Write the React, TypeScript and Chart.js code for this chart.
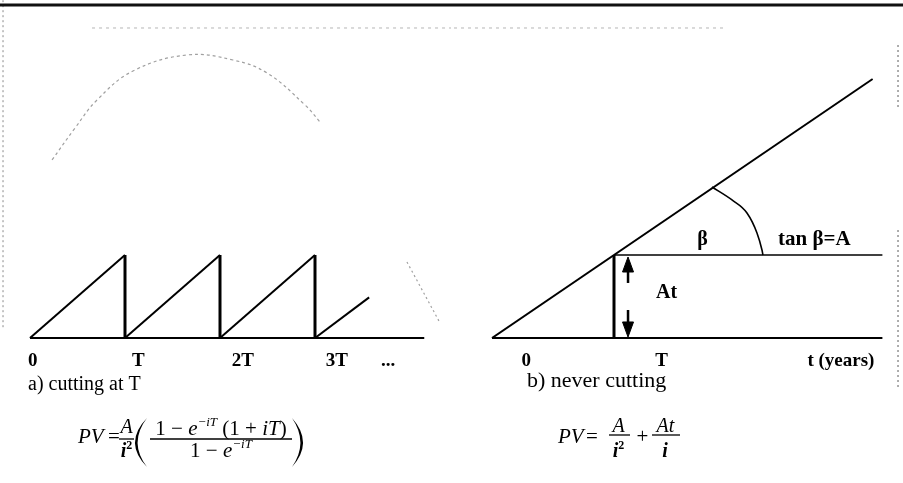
import React, { useEffect, useRef } from 'react';
import { Chart, registerables } from 'chart.js';

Chart.register(...registerables);

// ---------------- DATA ----------------
// (a) cutting at T : sawtooth growth, x in units of T, y in units of A*T
const rampStartX = [0, 1, 2, 3];
const rampEndX = [1, 2, 3, 3.57];
const rampEndY = [1, 1, 1, 0.49];
const cutX = [1, 2, 3];
const cutHeight = [1, 1, 1];
const leftBaseEnd = 4.15;
const leftTickPos = [0.03, 1.14, 2.24, 3.23, 3.77];
const leftTickLabels = ['0', 'T', '2T', '3T', '...'];

// (b) never cutting : straight growth y = A t (A = 1), cut line at T
const growthT = [0, 3.12];
const growthV = [0, 3.12];
const cutT = 1;
const levelEnd = 3.2;
const arcX = [1.803, 1.967, 2.09, 2.172, 2.213, 2.221];
const arcY = [1.819, 1.663, 1.506, 1.265, 1.06, 1.0];
const arrowT = 1.115;
const arrowUpY = [0.663, 0.795, 0.976]; // tail, head base, tip
const arrowDownY = [0.337, 0.193, 0.012]; // tail, head base, tip
const rightTickPos = [0.28, 1.39, 2.86];
const rightTickLabels = ['0', 'T', 't (years)'];

// scan marks
const ghostArcX = [0.232, 0.474, 0.705, 1.084, 1.653, 2.137, 2.495, 2.895, 3.053];
const ghostArcY = [2.145, 2.53, 2.867, 3.217, 3.41, 3.349, 3.193, 2.807, 2.602];
const ghostTailX = [3.968, 4.316];
const ghostTailY = [0.916, 0.181];
const frameTopY = 4.012;
const faintRuleY = 3.735;
const faintRuleLeftStart = 0.653;
const faintRuleRightEnd = 1.926;
const leftFrameX = -0.284;
const leftFrameY = [4.07, 0.096];
const rightFrameX = 3.328;
const rightFrameY1 = [3.53, 2.747];
const rightFrameY2 = [1.301, -0.6];

// ---------------- LAYOUT ----------------
const W = 903;
const H = 483;
const SPLIT = 451;
const BASE_PX = 338;
const UNIT_Y = 83;
const L_UNIT = 95;
const L_ORIGIN = 30;
const R_UNIT = 122;
const R_ORIGIN = 41;
const Y_MAX = BASE_PX / UNIT_Y;

const FF = '"Liberation Serif", "Times New Roman", serif';
const font = (style: string, size: number) => `${style} ${size}px ${FF}`;

type Pt = { x: number; y: number };
const pts = (xs: number[], ys: number[]): Pt[] => xs.map((x, i) => ({ x, y: ys[i] }));

const seg = (data: Pt[], width: number, color = '#000', dash: number[] = [], clip = true) => ({
  data,
  showLine: true,
  borderColor: color,
  backgroundColor: color,
  borderWidth: width,
  borderDash: dash,
  pointRadius: 0,
  pointHoverRadius: 0,
  fill: false,
  tension: 0,
  borderJoinStyle: 'miter',
  clip: clip ? undefined : false,
});

const tri = (x: number, base: number, tip: number, hw: number) => ({
  data: [
    { x: x - hw, y: base },
    { x, y: tip },
    { x: x + hw, y: base },
    { x: x - hw, y: base },
  ],
  showLine: true,
  borderColor: '#000',
  backgroundColor: '#000',
  borderWidth: 1,
  pointRadius: 0,
  fill: 'shape',
  tension: 0,
});

type Run = { t: string; f: string; dy?: number };
function runs(ctx: CanvasRenderingContext2D, rs: Run[], x: number, y: number, align: 'left' | 'center' = 'left') {
  let w = 0;
  rs.forEach((r) => {
    ctx.font = r.f;
    w += ctx.measureText(r.t).width;
  });
  let cx = align === 'center' ? x - w / 2 : x;
  ctx.textBaseline = 'alphabetic';
  ctx.textAlign = 'left';
  ctx.fillStyle = '#000';
  rs.forEach((r) => {
    ctx.font = r.f;
    ctx.fillText(r.t, cx, y + (r.dy || 0));
    cx += ctx.measureText(r.t).width;
  });
}
function hbar(ctx: CanvasRenderingContext2D, x1: number, x2: number, y: number) {
  ctx.save();
  ctx.strokeStyle = '#000';
  ctx.lineWidth = 1.3;
  ctx.beginPath();
  ctx.moveTo(x1, y);
  ctx.lineTo(x2, y);
  ctx.stroke();
  ctx.restore();
}
function paren(ctx: CanvasRenderingContext2D, tipX: number, bulgeX: number, top: number, bottom: number) {
  const dir = Math.sign(tipX - bulgeX);
  const mid = (top + bottom) / 2;
  ctx.save();
  ctx.fillStyle = '#000';
  ctx.beginPath();
  ctx.moveTo(tipX, top);
  ctx.quadraticCurveTo(2 * bulgeX - tipX, mid, tipX, bottom);
  ctx.quadraticCurveTo(2 * (bulgeX + dir * 2.6) - tipX, mid, tipX, top);
  ctx.closePath();
  ctx.fill();
  ctx.restore();
}

const textPlugin = (draw: (ctx: CanvasRenderingContext2D, ox: number, oy: number) => void) => ({
  id: 'diagramText',
  afterDraw(chart: any) {
    const ctx = chart.ctx as CanvasRenderingContext2D;
    const ox = chart.scales.x.getPixelForValue(0);
    const oy = chart.scales.y.getPixelForValue(0);
    ctx.save();
    draw(ctx, ox, oy);
    ctx.restore();
  },
});

const drawLeftText = (ctx: CanvasRenderingContext2D, ox: number, oy: number) => {
  runs(ctx, [{ t: 'a) cutting at T', f: font('normal', 20) }], ox - 2, oy + 52);
  runs(ctx, [{ t: 'PV', f: font('italic', 21) }], ox + 48, oy + 105);
  runs(ctx, [{ t: '=', f: font('normal', 21) }], ox + 84, oy + 105, 'center');
  runs(ctx, [{ t: 'A', f: font('italic', 20) }], ox + 96.5, oy + 95, 'center');
  hbar(ctx, ox + 89, ox + 104, oy + 101);
  runs(ctx, [{ t: 'i', f: font('bold italic', 20) }, { t: '2', f: font('bold', 12), dy: -8 }], ox + 96.5, oy + 119, 'center');
  paren(ctx, ox + 117, ox + 105, oy + 80, oy + 129);
  const sup = (t: string): Run => ({ t, f: font('italic', 13), dy: -9 });
  runs(
    ctx,
    [
      { t: '1 \u2212 ', f: font('normal', 21) },
      { t: 'e', f: font('italic', 21) },
      sup('\u2212iT'),
      { t: ' (1 + ', f: font('normal', 21) },
      { t: 'iT', f: font('italic', 21) },
      { t: ')', f: font('normal', 21) },
    ],
    ox + 191,
    oy + 97,
    'center'
  );
  hbar(ctx, ox + 120, ox + 262, oy + 101);
  runs(
    ctx,
    [{ t: '1 \u2212 ', f: font('normal', 21) }, { t: 'e', f: font('italic', 21) }, sup('\u2212iT')],
    ox + 191,
    oy + 119,
    'center'
  );
  paren(ctx, ox + 262, ox + 273, oy + 80, oy + 129);
};

const drawRightText = (ctx: CanvasRenderingContext2D, ox: number, oy: number) => {
  runs(ctx, [{ t: 'b) never cutting', f: font('normal', 22) }], ox + 35, oy + 49);
  runs(ctx, [{ t: 'At', f: font('bold', 20) }], ox + 174.5, oy - 40, 'center');
  runs(ctx, [{ t: '\u03B2', f: font('bold', 20) }], ox + 210.5, oy - 93, 'center');
  runs(ctx, [{ t: 'tan \u03B2=A', f: font('bold', 21) }], ox + 286, oy - 93);
  runs(ctx, [{ t: 'PV', f: font('italic', 21) }], ox + 66, oy + 105);
  runs(ctx, [{ t: '=', f: font('normal', 21) }], ox + 100, oy + 105, 'center');
  runs(ctx, [{ t: 'A', f: font('italic', 20) }], ox + 126.5, oy + 94, 'center');
  hbar(ctx, ox + 117, ox + 138, oy + 97);
  runs(ctx, [{ t: 'i', f: font('bold italic', 20) }, { t: '2', f: font('bold', 12), dy: -8 }], ox + 126.5, oy + 119, 'center');
  runs(ctx, [{ t: '+', f: font('normal', 21) }], ox + 150.5, oy + 105, 'center');
  runs(ctx, [{ t: 'At', f: font('italic', 20) }], ox + 173.5, oy + 94, 'center');
  hbar(ctx, ox + 160, ox + 188, oy + 97);
  runs(ctx, [{ t: 'i', f: font('bold italic', 20) }], ox + 173, oy + 119, 'center');
};

const xAxis = (min: number, max: number, tickPos: number[], tickLabels: string[]) => ({
  type: 'linear',
  min,
  max,
  grid: { display: false, drawTicks: false },
  border: { display: false },
  afterBuildTicks: (axis: any) => {
    axis.ticks = tickPos.map((v) => ({ value: v }));
  },
  afterFit: (axis: any) => {
    axis.height = H - BASE_PX;
  },
  ticks: {
    autoSkip: false,
    maxRotation: 0,
    minRotation: 0,
    padding: 12,
    color: '#000',
    font: { family: FF, size: 19, weight: 'bold' },
    callback: (_v: any, i: number) => tickLabels[i],
  },
});

const baseOptions = (x: any) => ({
  animation: false,
  responsive: false,
  maintainAspectRatio: false,
  layout: { padding: 0 },
  plugins: { legend: { display: false }, tooltip: { enabled: false } },
  events: [],
  scales: {
    x,
    y: { type: 'linear', min: 0, max: Y_MAX, display: false },
  },
});

function leftConfig(): any {
  const datasets: any[] = [];
  // scan marks
  datasets.push(seg([{ x: -1, y: frameTopY }, { x: 10, y: frameTopY }], 3, '#111', [], false));
  datasets.push(seg([{ x: faintRuleLeftStart, y: faintRuleY }, { x: 10, y: faintRuleY }], 1, '#b5b5b5', [3, 4], false));
  datasets.push(seg(pts([leftFrameX, leftFrameX], leftFrameY), 1, '#8a8a8a', [2, 3], false));
  datasets.push({ ...seg(pts(ghostArcX, ghostArcY), 1.2, '#a0a0a0', [3, 3], false), tension: 0.4 });
  datasets.push(seg(pts(ghostTailX, ghostTailY), 1.2, '#a0a0a0', [2, 3], false));
  // baseline
  datasets.push(seg([{ x: 0, y: 0 }, { x: leftBaseEnd, y: 0 }], 2, '#000', [], false));
  // growth ramps
  rampStartX.forEach((x0, i) => {
    datasets.push(seg([{ x: x0, y: 0 }, { x: rampEndX[i], y: rampEndY[i] }], 2));
  });
  // cuts
  cutX.forEach((x, i) => {
    datasets.push(seg([{ x, y: 0 }, { x, y: cutHeight[i] }], 3, '#000', [], false));
  });
  return {
    type: 'scatter',
    data: { datasets },
    options: baseOptions(xAxis(-L_ORIGIN / L_UNIT, (SPLIT - L_ORIGIN) / L_UNIT, leftTickPos, leftTickLabels)),
    plugins: [textPlugin(drawLeftText)],
  };
}

function rightConfig(): any {
  const datasets: any[] = [];
  const hw = 5.5 / R_UNIT;
  datasets.push(seg([{ x: -1, y: frameTopY }, { x: 10, y: frameTopY }], 3, '#111', [], false));
  datasets.push(seg([{ x: -1, y: faintRuleY }, { x: faintRuleRightEnd, y: faintRuleY }], 1, '#b5b5b5', [3, 4], false));
  datasets.push(seg(pts([rightFrameX, rightFrameX], rightFrameY1), 1.2, '#777', [2, 3], false));
  datasets.push(seg(pts([rightFrameX, rightFrameX], rightFrameY2), 1.2, '#777', [2, 3], false));
  // baseline and level line
  datasets.push(seg([{ x: 0, y: 0 }, { x: levelEnd, y: 0 }], 2, '#000', [], false));
  datasets.push(seg([{ x: cutT, y: cutT }, { x: levelEnd, y: cutT }], 1.6));
  // growth line
  datasets.push(seg(pts(growthT, growthV), 2));
  // cut at T
  datasets.push(seg([{ x: cutT, y: 0 }, { x: cutT, y: cutT }], 3, '#000', [], false));
  // angle arc
  datasets.push({ ...seg(pts(arcX, arcY), 1.6), tension: 0.4, cubicInterpolationMode: 'monotone' });
  // At arrows
  datasets.push(seg([{ x: arrowT, y: arrowUpY[0] }, { x: arrowT, y: arrowUpY[1] }], 2.5));
  datasets.push(tri(arrowT, arrowUpY[1], arrowUpY[2], hw));
  datasets.push(seg([{ x: arrowT, y: arrowDownY[0] }, { x: arrowT, y: arrowDownY[1] }], 2.5));
  datasets.push(tri(arrowT, arrowDownY[1], arrowDownY[2], hw));
  return {
    type: 'scatter',
    data: { datasets },
    options: baseOptions(xAxis(-R_ORIGIN / R_UNIT, (W - SPLIT - R_ORIGIN) / R_UNIT, rightTickPos, rightTickLabels)),
    plugins: [textPlugin(drawRightText)],
  };
}

export default function App() {
  const lRef = useRef<HTMLCanvasElement>(null);
  const rRef = useRef<HTMLCanvasElement>(null);
  useEffect(() => {
    const a = new Chart(lRef.current as HTMLCanvasElement, leftConfig());
    const b = new Chart(rRef.current as HTMLCanvasElement, rightConfig());
    return () => {
      a.destroy();
      b.destroy();
    };
  }, []);
  return (
    <div style={{ position: 'absolute', left: 0, top: 0, width: W, height: H, background: '#fff', overflow: 'hidden' }}>
      <canvas ref={lRef} width={SPLIT} height={H} style={{ position: 'absolute', left: 0, top: 0 }} />
      <canvas ref={rRef} width={W - SPLIT} height={H} style={{ position: 'absolute', left: SPLIT, top: 0 }} />
    </div>
  );
}
